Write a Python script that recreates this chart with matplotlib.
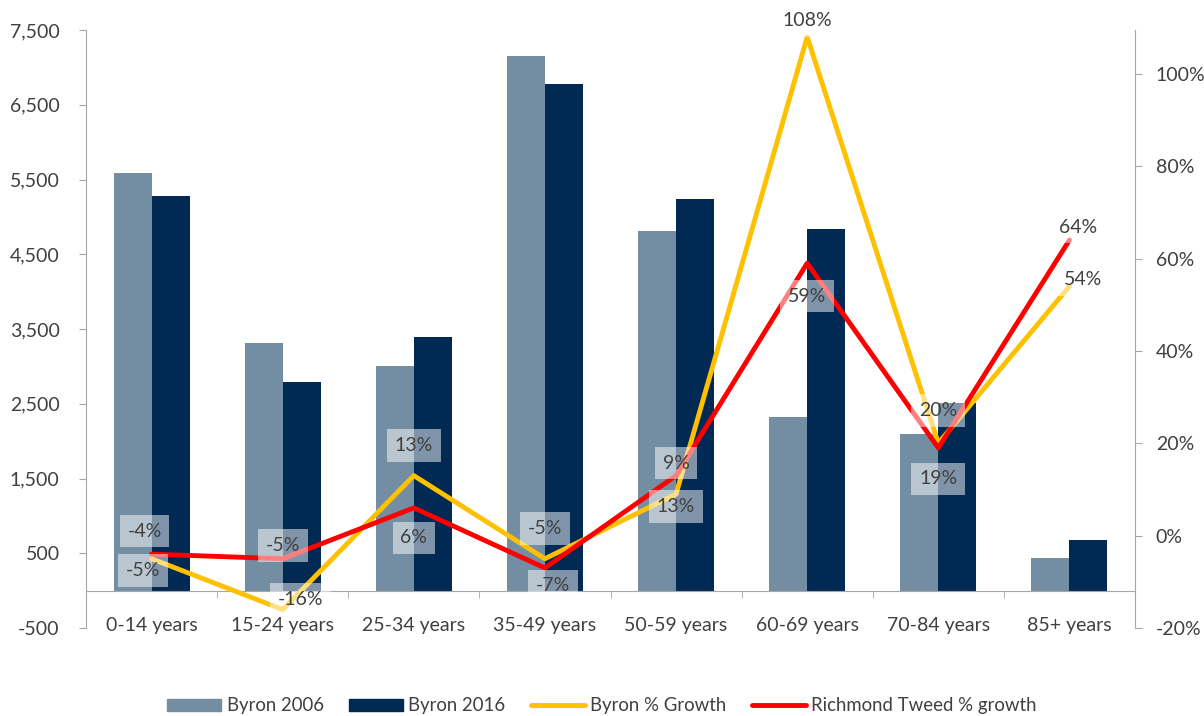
import numpy as np
import matplotlib.pyplot as plt
from matplotlib.ticker import FuncFormatter, MultipleLocator, FixedLocator
from matplotlib.lines import Line2D
from matplotlib.patches import Patch

plt.rcParams['font.family'] = ['Lato', 'DejaVu Sans']

categories = ['0-14 years', '15-24 years', '25-34 years', '35-49 years',
              '50-59 years', '60-69 years', '70-84 years', '85+ years']
byron_2006 = [5592, 3318, 3010, 7157, 4816, 2328, 2100, 441]
byron_2016 = [5284, 2796, 3398, 6783, 5244, 4843, 2515, 682]
byron_growth = [-0.05, -0.16, 0.13, -0.05, 0.09, 1.08, 0.20, 0.54]
richmond_growth = [-0.04, -0.05, 0.06, -0.07, 0.13, 0.59, 0.19, 0.64]

# label offsets in pixels (x right, y up)
byron_offsets = [(-9, -12), (18, 10), (0, 30), (0, 30), (0, 31), (0, 16), (0, 33), (14, 7)]
richmond_offsets = [(-7, 23), (0, 13), (0, -30), (8, -18), (0, -31), (0, -33), (0, -31), (9, 13)]

c2006 = '#738ea2'
c2016 = '#002a54'
cyel = '#ffc000'
cred = '#ff0000'
grid_c = '#a6a6a6'
txt_c = '#404040'
fs = 14

fig = plt.figure(figsize=(12.04, 7.16), dpi=100)
ax = fig.add_axes([86/1204, 1-628/716, (1135-86)/1204, (628-30)/716])

x = np.arange(len(categories))
w = 0.29
ax.bar(x - w/2, byron_2006, w, color=c2006, label='Byron 2006', zorder=2)
ax.bar(x + w/2, byron_2016, w, color=c2016, label='Byron 2016', zorder=2)

ax.set_xlim(-0.5, len(categories) - 0.5)
ax.set_ylim(-500, 7500)
ax.yaxis.set_major_locator(MultipleLocator(1000, offset=500))
ax.yaxis.set_major_formatter(FuncFormatter(lambda v, p: f'{v:,.0f}'))

ax.spines['top'].set_visible(False)
ax.spines['right'].set_visible(False)
ax.spines['bottom'].set_position(('data', 0))
ax.spines['bottom'].set_color(grid_c)
ax.spines['left'].set_color(grid_c)

ax.set_xticks(x)
ax.set_xticklabels(categories)
ax.xaxis.set_minor_locator(FixedLocator(np.arange(0.5, len(categories) - 0.5, 1)))
ax.tick_params(axis='x', which='major', length=0, pad=19, labelsize=fs, labelcolor=txt_c)
ax.tick_params(axis='x', which='minor', length=5, color=grid_c, direction='out')
ax.tick_params(axis='y', length=5, color=grid_c, pad=14, labelsize=fs, labelcolor=txt_c)

ax2 = ax.twinx()
ax2.set_ylim(-0.2, 1.095)
ax2.yaxis.set_major_locator(FixedLocator([-0.2, 0, 0.2, 0.4, 0.6, 0.8, 1.0]))
ax2.yaxis.set_major_formatter(FuncFormatter(lambda v, p: f'{v*100:.0f}%'))
for s in ['top', 'left', 'bottom']:
    ax2.spines[s].set_visible(False)
ax2.spines['right'].set_color(grid_c)
ax2.tick_params(axis='y', length=5, color=grid_c, pad=10, labelsize=fs, labelcolor=txt_c)

ax2.plot(x, byron_growth, color=cyel, lw=3.5, solid_capstyle='round', zorder=3)
ax2.plot(x, richmond_growth, color=cred, lw=3.5, solid_capstyle='round', zorder=4)

box = dict(boxstyle='square,pad=0.4', fc='white', ec='none', alpha=0.5)
for i in range(len(categories)):
    ax2.annotate(f'{byron_growth[i]*100:.0f}%', (x[i], byron_growth[i]),
                 xytext=byron_offsets[i], textcoords='offset pixels',
                 ha='center', va='center', fontsize=fs, color=txt_c, bbox=box, zorder=6)
    ax2.annotate(f'{richmond_growth[i]*100:.0f}%', (x[i], richmond_growth[i]),
                 xytext=richmond_offsets[i], textcoords='offset pixels',
                 ha='center', va='center', fontsize=fs, color=txt_c, bbox=box, zorder=6)

handles = [Patch(color=c2006), Patch(color=c2016),
           Line2D([], [], color=cyel, lw=3.5, solid_capstyle='round'),
           Line2D([], [], color=cred, lw=3.5, solid_capstyle='round')]
labels = ['Byron 2006', 'Byron 2016', 'Byron % Growth', 'Richmond Tweed % growth']
leg = fig.legend(handles, labels, loc='center', bbox_to_anchor=(0.5, 1 - 706/716),
                 ncol=4, frameon=False, fontsize=13.4, handlelength=2.9,
                 handleheight=0.6, columnspacing=1.35, handletextpad=0.3)
for t in leg.get_texts():
    t.set_color(txt_c)

fig.savefig('out.png', dpi=100)
